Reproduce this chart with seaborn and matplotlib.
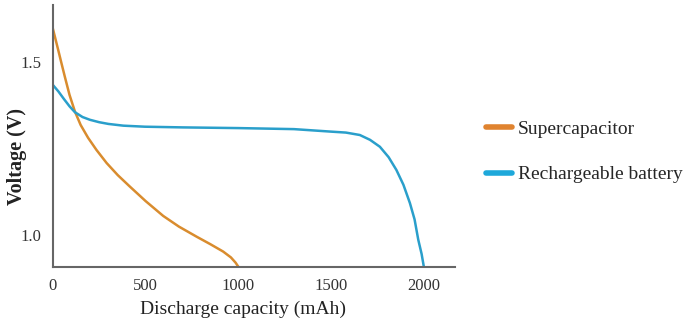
import numpy as np
import pandas as pd
import matplotlib.pyplot as plt
import seaborn as sns

# values
super_cap = [0, 15, 29, 45, 65, 90, 119, 150, 190, 235, 290, 350, 415, 500, 595, 680,
             775, 850, 918, 960, 985, 1000]
super_v = [1.597, 1.565, 1.535, 1.50, 1.457, 1.405, 1.357, 1.318, 1.281, 1.246, 1.208, 1.173,
           1.140, 1.098, 1.055, 1.024, 0.995, 0.973, 0.952, 0.935, 0.92, 0.908]

batt_cap = [0, 30, 60, 90, 119, 160, 200, 250, 300, 380, 496, 700, 1000, 1300, 1493, 1580,
            1655, 1710, 1763, 1810, 1852, 1890, 1925, 1950, 1970, 1988, 2000]
batt_v = [1.434, 1.415, 1.393, 1.372, 1.355, 1.341, 1.333, 1.326, 1.321, 1.316, 1.313, 1.311,
          1.309, 1.306, 1.299, 1.296, 1.289, 1.275, 1.255, 1.225, 1.188, 1.145, 1.092, 1.045,
          0.986, 0.945, 0.908]

series_names = ["Supercapacitor", "Rechargeable battery"]
colors = ["#D98C2E", "#2A9FCB"]

df = pd.concat([
    pd.DataFrame({"cap": super_cap, "v": super_v, "kind": series_names[0]}),
    pd.DataFrame({"cap": batt_cap, "v": batt_v, "kind": series_names[1]}),
])

sns.set_style("white")
plt.rcParams["font.family"] = ["Liberation Serif", "DejaVu Serif"]

fig = plt.figure(figsize=(6.86, 3.32), dpi=100)
ax = fig.add_axes([0.077, 0.196, 0.586, 0.789])

sns.lineplot(data=df, x="cap", y="v", hue="kind", palette=colors, sort=False,
             linewidth=1.8, ax=ax, legend=False)

ax.set_xlim(0, 2167)
ax.set_ylim(0.9075, 1.665)
ax.set_xticks([0, 500, 1000, 1500, 2000])
ax.set_yticks([1.0, 1.5])
ax.set_yticklabels(["1.0", "1.5"])
ax.tick_params(length=0, labelsize=12, colors="#333333", pad=8)
ax.set_xlabel("Discharge capacity (mAh)", fontsize=14, color="#222222")
ax.xaxis.set_label_coords(0.473, -0.13)
ax.set_ylabel("Voltage (V)", fontsize=14.5, color="#222222", fontweight="bold")
ax.yaxis.set_label_coords(-0.064, 0.42)
for side in ["top", "right"]:
    ax.spines[side].set_visible(False)
for side in ["left", "bottom"]:
    ax.spines[side].set_color("#666666")
    ax.spines[side].set_linewidth(1.5)

handles = [plt.Line2D([], [], color=c, lw=4) for c in ["#E0832F", "#1EA8DA"]]
fig.legend(handles, series_names, loc="center left", bbox_to_anchor=(0.683, 0.543),
           frameon=False, fontsize=14, handlelength=1.35, handletextpad=0.3,
           labelspacing=1.45)

fig.savefig("out.png", dpi=100)
